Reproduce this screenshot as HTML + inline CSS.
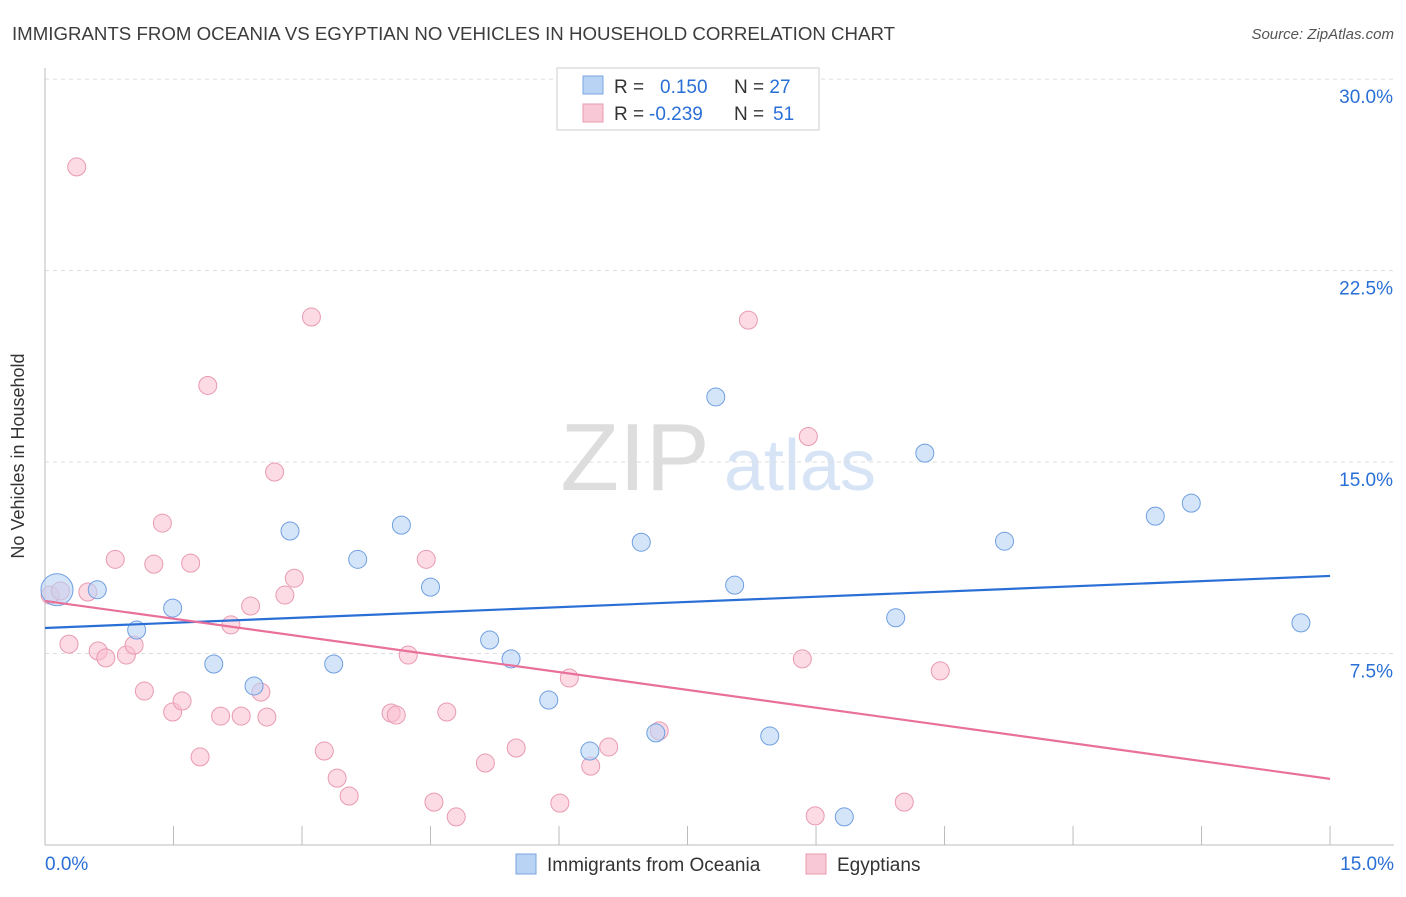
<!DOCTYPE html>
<html><head><meta charset="utf-8"><style>
body{margin:0;background:#fff;font-family:"Liberation Sans",sans-serif}
svg text{font-family:"Liberation Sans",sans-serif}
</style></head><body>
<svg id="chart" width="1406" height="892" viewBox="0 0 1406 892">
<text x="12" y="40" font-size="18" fill="#3c3c3c" textLength="883" lengthAdjust="spacingAndGlyphs">IMMIGRANTS FROM OCEANIA VS EGYPTIAN NO VEHICLES IN HOUSEHOLD CORRELATION CHART</text>
<text x="1394" y="39" font-size="15" fill="#555" text-anchor="end" font-style="italic">Source: ZipAtlas.com</text>
<text x="24" y="456" font-size="18" fill="#333" text-anchor="middle" transform="rotate(-90 24 456)">No Vehicles in Household</text>
<g><text x="635" y="490" font-size="96" fill="#ddd" font-family="Liberation Serif" text-anchor="middle">ZIP</text><text x="800" y="490" font-size="72" fill="#d6e4f5" text-anchor="middle">atlas</text></g>
<g id="grid"></g><g id="axes"></g><g id="marks"></g>
<g>
<rect x="557" y="68" width="262" height="62" fill="#fff" stroke="#ccc"/>
<rect x="583" y="76" width="20" height="18" fill="#b9d3f5" stroke="#7aa6e0"/>
<rect x="583" y="104" width="20" height="18" fill="#f9c8d6" stroke="#e89ab0"/>
<text x="614" y="93" font-size="19" fill="#333">R = <tspan fill="#2a6fd6" x="660">0.150</tspan><tspan fill="#333" x="734">N = </tspan><tspan fill="#2a6fd6">27</tspan></text>
<text x="614" y="120" font-size="19" fill="#333">R = <tspan fill="#2a6fd6" x="649">-0.239</tspan><tspan fill="#333" x="734">N = </tspan><tspan fill="#2a6fd6" x="773">51</tspan></text>
</g>
<g>
<rect x="516" y="854" width="20" height="20" fill="#b9d3f5" stroke="#7aa6e0"/>
<text x="547" y="871" font-size="19" fill="#333">Immigrants from Oceania</text>
<rect x="806" y="854" width="20" height="20" fill="#f9c8d6" stroke="#e89ab0"/>
<text x="837" y="871" font-size="19" fill="#333">Egyptians</text>
</g>
</svg>
<script>
const blueX=[0.14,0.61,1.07,1.49,1.97,2.44,2.86,3.37,3.65,4.16,4.5,5.19,5.44,5.88,6.36,6.96,7.13,8.05,7.83,8.46,9.33,9.93,10.27,11.2,12.96,13.38,14.66];
const blueY=[10.0,10.0,8.42,9.28,7.09,6.23,12.3,7.09,11.19,12.53,10.1,8.03,7.29,5.68,3.68,11.86,4.39,10.18,17.55,4.27,1.1,8.9,15.35,11.9,12.88,13.39,8.7];
const blueR=[16,9,9,9,9,9,9,9,9,9,9,9,9,9,9,9,9,9,9,9,9,9,9,9,9,9,9];
const pinkX=[0.37,0.06,0.18,0.28,0.5,0.62,0.71,0.82,0.95,1.04,1.16,1.27,1.37,1.49,1.6,1.7,1.81,1.9,2.05,2.17,2.29,2.4,2.52,2.59,2.68,2.8,2.91,3.11,3.26,3.41,3.55,4.04,4.1,4.24,4.45,4.54,4.69,4.8,5.14,5.5,6.01,6.12,6.37,6.58,7.17,8.21,8.84,8.91,8.99,10.03,10.45];
const pinkY=[26.56,9.79,9.95,7.87,9.91,7.6,7.33,11.19,7.44,7.83,6.03,11.0,12.61,5.21,5.64,11.04,3.45,18.0,5.05,8.62,5.05,9.36,5.99,5.01,14.61,9.79,10.45,20.68,3.68,2.62,1.92,5.17,5.09,7.44,11.19,1.68,5.21,1.1,3.21,3.8,1.64,6.54,3.09,3.84,4.47,20.56,7.29,16.0,1.14,1.68,6.82];
const blueTrend=[8.5,10.54];const pinkTrend=[9.56,2.59];
const yTicks=[7.5,15,22.5,30];const yTickLabels=["7.5%","15.0%","22.5%","30.0%"];
const xTicks=[0,1.5,3,4.5,6,7.5,9,10.5,12,13.5,15];
const NS="http://www.w3.org/2000/svg";
const sx=v=>45+v*85.67, sy=v=>845-v*25.53;
function mk(tag,attrs,parent){const e=document.createElementNS(NS,tag);for(const k in attrs)e.setAttribute(k,attrs[k]);parent.appendChild(e);return e;}
const grid=document.getElementById('grid'),axes=document.getElementById('axes'),marks=document.getElementById('marks');
yTicks.forEach((t,i)=>{const l=mk('line',{x1:45,x2:1394,y1:sy(t),y2:sy(t),stroke:'#ddd','stroke-dasharray':'4 4'},grid);


const tx=mk('text',{x:1393,y:sy(t)+24,'font-size':19,fill:'#2a6fd6','text-anchor':'end'},axes);tx.textContent=yTickLabels[i];

});
const ax=mk('line',{x1:45,x2:1394,y1:845,y2:845,stroke:'#bbb'},axes);


const ay=mk('line',{x1:45,x2:45,y1:68,y2:845,stroke:'#bbb'},axes);


xTicks.forEach(t=>{const l=mk('line',{x1:sx(t),x2:sx(t),y1:826,y2:845,stroke:'#bbb'},axes);

});
const x0=mk('text',{x:45,y:870,'font-size':19,fill:'#2a6fd6'},axes);x0.textContent='0.0%';


const x1=mk('text',{x:1394,y:870,'font-size':19,fill:'#2a6fd6','text-anchor':'end'},axes);x1.textContent='15.0%';


pinkX.forEach((x,i)=>{const c=mk('circle',{cx:sx(x),cy:sy(pinkY[i]),r:9,fill:'rgba(249,190,208,0.55)',stroke:'#e89ab0','stroke-width':1},marks);

});
blueX.forEach((x,i)=>{const c=mk('circle',{cx:sx(x),cy:sy(blueY[i]),r:blueR[i],fill:'rgba(185,211,245,0.6)',stroke:'#6f9fe0','stroke-width':1},marks);

});
const bl=mk('line',{x1:sx(0),x2:sx(15),y1:sy(blueTrend[0]),y2:sy(blueTrend[1]),stroke:'#2a6fd6','stroke-width':2.2},marks);


const pl=mk('line',{x1:sx(0),x2:sx(15),y1:sy(pinkTrend[0]),y2:sy(pinkTrend[1]),stroke:'#e8709a','stroke-width':2.2},marks);


</script>
</body></html>
